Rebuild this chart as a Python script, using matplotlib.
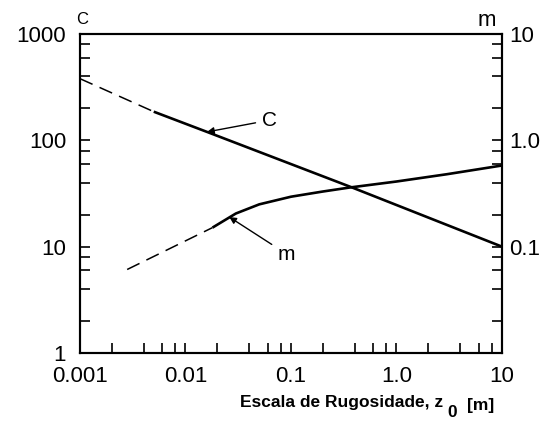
import matplotlib
matplotlib.use("Agg")
import matplotlib.pyplot as plt
from matplotlib.ticker import LogLocator, FixedLocator, FixedFormatter, NullFormatter

plt.rcParams['font.family'] = ['Liberation Sans', 'DejaVu Sans']

# coeficiente C (eixo esquerdo)
z_c_tracejado = [0.001, 0.005]
c_tracejado = [380, 186]
z_c = [0.005, 0.016, 0.38, 10]
c_vals = [186, 120, 36, 10]

# expoente m (eixo direito)
z_m_tracejado = [0.0028, 0.018]
m_tracejado = [0.061, 0.151]
z_m = [0.018, 0.03, 0.05, 0.1, 0.2, 0.36, 1.0, 3.0, 10]
m_vals = [0.151, 0.205, 0.25, 0.295, 0.33, 0.36, 0.41, 0.48, 0.58]

xticks = [0.001, 0.01, 0.1, 1.0, 10]
xlabels = ['0.001', '0.01', '0.1', '1.0', '10']
yticks_c = [1, 10, 100, 1000]
ylabels_c = ['1', '10', '100', '1000']
yticks_m = [0.1, 1.0, 10]
ylabels_m = ['0.1', '1.0', '10']

fig = plt.figure(figsize=(5.5, 4.23), dpi=100)
ax = fig.add_axes([80/550, 70/423, 422/550, 319/423])
ax2 = ax.twinx()

ax.set_xscale('log')
ax.set_yscale('log')
ax2.set_yscale('log')
ax.set_xlim(0.001, 10)
ax.set_ylim(1, 1000)
ax2.set_ylim(0.01, 10)

ax.plot(z_c_tracejado, c_tracejado, color='k', lw=1.1, dashes=(9, 5))
ax.plot(z_c, c_vals, color='k', lw=1.9, solid_capstyle='butt')
ax2.plot(z_m_tracejado, m_tracejado, color='k', lw=1.1, dashes=(9, 5))
ax2.plot(z_m, m_vals, color='k', lw=1.9, solid_capstyle='butt', solid_joinstyle='round')

# eixos e marcas
for a in (ax, ax2):
    for s in a.spines.values():
        s.set_linewidth(1.5)

ax.xaxis.set_major_locator(FixedLocator(xticks))
ax.xaxis.set_major_formatter(FixedFormatter(xlabels))
ax.xaxis.set_minor_locator(LogLocator(base=10, subs=[2, 4, 6, 8]))
ax.xaxis.set_minor_formatter(NullFormatter())
ax.yaxis.set_major_locator(FixedLocator(yticks_c))
ax.yaxis.set_major_formatter(FixedFormatter(ylabels_c))
ax.yaxis.set_minor_locator(LogLocator(base=10, subs=[2, 4, 6, 8]))
ax.yaxis.set_minor_formatter(NullFormatter())
ax2.yaxis.set_major_locator(FixedLocator(yticks_m))
ax2.yaxis.set_major_formatter(FixedFormatter(ylabels_m))
ax2.yaxis.set_minor_locator(LogLocator(base=10, subs=[2, 4, 6, 8]))
ax2.yaxis.set_minor_formatter(NullFormatter())

ax.tick_params(axis='both', which='both', direction='in', length=7, width=1.2,
               top=False, right=False, labelsize=16)
ax.tick_params(axis='y', which='both', pad=10)
ax.tick_params(axis='x', which='both', pad=9)
ax2.tick_params(axis='y', which='both', direction='in', length=7, width=1.2,
                labelsize=16, pad=5)

# títulos dos eixos
fig.text(82/550, 1 - 19/423, 'C', ha='center', va='center', fontsize=12)
fig.text(487/550, 1 - 21/423, 'm', ha='center', va='center', fontsize=16)

t1 = fig.text(240/550, 1 - 407/423, 'Escala de Rugosidade, z', ha='left', va='baseline',
              fontsize=12.5, fontweight='bold')
fig.add_artist(plt.Annotation('0', xy=(1, 0), xycoords=t1, xytext=(3, -5),
                              textcoords='offset points', ha='left', va='baseline',
                              fontsize=12.5, fontweight='bold'))
fig.add_artist(plt.Annotation('[m]', xy=(1, 0), xycoords=t1, xytext=(17, 0),
                              textcoords='offset points', ha='left', va='baseline',
                              fontsize=12.5, fontweight='bold'))

# rótulos das curvas com setas
ax.annotate('C', xy=(z_c[1], c_vals[1]), xytext=(0.45, 0.73), textcoords='axes fraction',
            ha='center', va='center', fontsize=15,
            arrowprops=dict(arrowstyle='-|>', color='k', lw=1.0, mutation_scale=10,
                            shrinkA=3, shrinkB=0))
ax2.annotate('m', xy=(0.026, 0.19), xytext=(0.49, 0.31), textcoords='axes fraction',
             ha='center', va='center', fontsize=15,
             arrowprops=dict(arrowstyle='-|>', color='k', lw=1.0, mutation_scale=10,
                             shrinkA=3, shrinkB=0))

fig.savefig('out.png', dpi=100)
